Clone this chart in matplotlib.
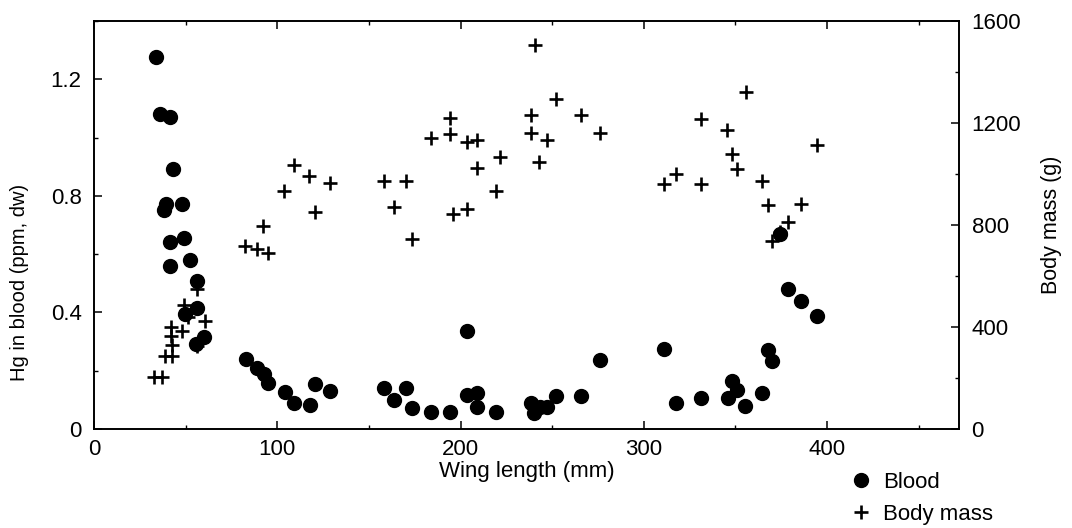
import matplotlib
matplotlib.use('Agg')
import matplotlib.pyplot as plt
from matplotlib.ticker import MultipleLocator

plt.rcParams['font.family'] = ['Liberation Sans', 'DejaVu Sans']

# Hg in blood (ppm, dw) vs wing length (mm)
blood_wing = [34, 36, 41.5, 43, 39.5, 38, 48, 41.5, 49, 41.5, 52.5, 56, 56, 49.5, 60, 55.5,
              83, 89, 92.5, 95, 104, 109, 118, 120.5, 129, 158.5, 163.5, 170, 173.5, 184, 194.5,
              203.5, 203.5, 209, 209, 219.5, 238.5, 240, 243.5, 247, 252, 265.5, 276, 311,
              317.5, 331, 346, 348, 351, 355, 364.5, 367.5, 370, 374.5, 378.5, 386, 394.5]
blood_hg = [1.278, 1.080, 1.070, 0.891, 0.772, 0.753, 0.771, 0.642, 0.656, 0.560, 0.580, 0.508,
            0.414, 0.393, 0.317, 0.292, 0.240, 0.211, 0.190, 0.158, 0.127, 0.089, 0.083, 0.154,
            0.129, 0.140, 0.098, 0.142, 0.071, 0.058, 0.058, 0.336, 0.117, 0.125, 0.077, 0.058,
            0.089, 0.054, 0.077, 0.074, 0.114, 0.114, 0.236, 0.275, 0.089, 0.106, 0.106, 0.166,
            0.134, 0.079, 0.125, 0.272, 0.234, 0.669, 0.479, 0.439, 0.387]

# body mass (g) vs wing length (mm)
mass_wing = [33, 37, 38.5, 42.5, 42.5, 42, 42, 48, 49, 51.5, 60.5, 56, 56,
             82.5, 89, 92, 95, 103.5, 109, 117.5, 120.5, 129, 158.5, 163.5, 170, 173.5, 184,
             194.5, 194.5, 196, 203.5, 203.5, 209, 209, 219.5, 221.5, 238.5, 238.5, 240.5,
             243, 247, 252, 265.5, 276, 311, 317.5, 331, 331, 345.5, 348, 351, 355.5, 364.5,
             368, 370, 374.5, 378.5, 386, 394.5]
mass_g = [202, 202, 285, 285, 330, 365, 400, 386, 485, 440, 425, 548, 324,
          718, 705, 797, 692, 933, 1036, 994, 852, 965, 972, 872, 972, 745, 1141,
          1220, 1158, 843, 1126, 863, 1132, 1023, 933, 1067, 1231, 1162, 1506,
          1047, 1135, 1294, 1231, 1162, 959, 1001, 1215, 959, 1174, 1077, 1020, 1323, 972,
          879, 736, 773, 813, 883, 1112]

fs = 16

fig = plt.figure(figsize=(10.72, 5.28), dpi=100)
ax1 = fig.add_axes([0.0877, 0.1875, 0.8069, 0.7727])
ax2 = ax1.twinx()

l1, = ax1.plot(blood_wing, blood_hg, 'o', color='black', markersize=10, linestyle='none',
               label='Blood')
l2, = ax2.plot(mass_wing, mass_g, '+', color='black', markersize=9.5, markeredgewidth=1.9,
               linestyle='none', label='Body mass')

ax1.set_xlim(0, 472)
ax1.set_ylim(0, 1.4)
ax2.set_ylim(0, 1600)

ax1.xaxis.set_major_locator(MultipleLocator(100))
ax1.xaxis.set_minor_locator(MultipleLocator(50))
ax1.set_yticks([0, 0.4, 0.8, 1.2])
ax1.set_yticklabels(['0', '0.4', '0.8', '1.2'])
ax1.yaxis.set_minor_locator(MultipleLocator(0.2))
ax2.yaxis.set_major_locator(MultipleLocator(400))
ax2.yaxis.set_minor_locator(MultipleLocator(200))

ax1.tick_params(axis='both', which='both', direction='in', top=True, labelsize=fs)
ax1.tick_params(axis='x', pad=7)
ax1.tick_params(axis='y', pad=9)
ax1.tick_params(which='major', length=6, width=1.1)
ax1.tick_params(which='minor', length=3, width=1.0)
ax2.tick_params(axis='y', which='both', direction='in', labelsize=fs, pad=9)
ax2.tick_params(which='major', length=6, width=1.1)
ax2.tick_params(which='minor', length=3, width=1.0)

for a in (ax1, ax2):
    for s in a.spines.values():
        s.set_linewidth(1.2)

ax1.set_xlabel('Wing length (mm)', fontsize=fs, labelpad=1)
ax1.set_ylabel('Hg in blood (ppm, dw)', fontsize=14.5)
ax1.yaxis.set_label_coords(-0.075, 0.36)
ax2.set_ylabel('Body mass (g)', fontsize=15.5, labelpad=14)

fig.legend(handles=[l1, l2], loc='upper left', bbox_to_anchor=(0.793, 0.106),
           frameon=False, fontsize=fs, handlelength=1.0, handletextpad=0.5,
           labelspacing=0.5, borderpad=0, borderaxespad=0)

fig.savefig('out.png', dpi=100)
